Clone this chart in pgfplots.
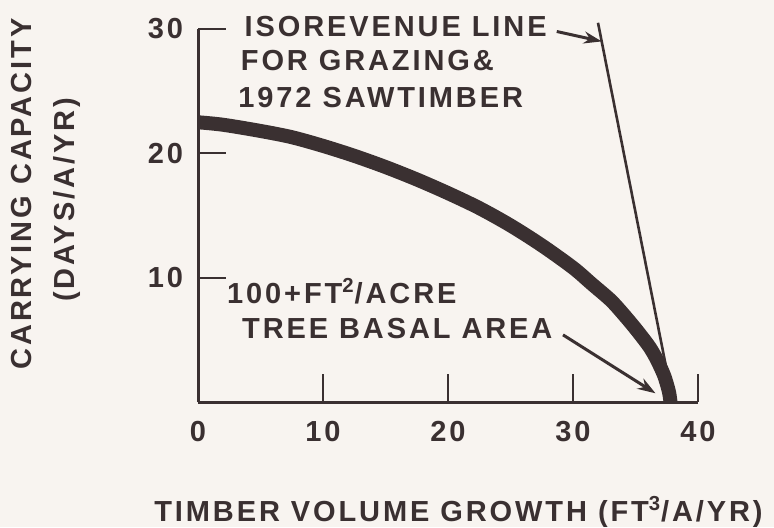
\documentclass[border=0pt]{standalone}
\usepackage{pgfplots}
\pgfplotsset{compat=1.18}
\usepackage{fontspec}
\setmainfont{Liberation Sans}[LetterSpace=10]
\usetikzlibrary{arrows.meta}
\definecolor{ink}{RGB}{58,48,49}
\definecolor{bg}{RGB}{248,244,240}
\newcommand{\lf}{\bfseries\fontsize{14.5}{16}\selectfont}
\begin{document}
\begin{tikzpicture}
\fill[bg] (0,0) rectangle (387pt,263.5pt);
\begin{axis}[
 at={(99pt,62.5pt)}, anchor=south west,
 scale only axis, width=250pt, height=186.5pt,
 xmin=0, xmax=40, ymin=0, ymax=30,
 axis x line=bottom, axis y line=left,
 axis line style={-, line width=1.5pt, draw=ink},
 xtick={0,10,20,30,40}, ytick={10,20,30},
 tick align=inside, major tick length=14pt,
 tick style={line width=1pt, draw=ink},
 ticklabel style={font=\lf, text=ink},
 /pgf/number format/assume math mode=true,
 xticklabel style={yshift=-6pt},
 yticklabel style={xshift=-4pt},
 clip=false,
]
\addplot[ink, line width=7pt, smooth, line cap=butt] coordinates {
 (0,22.5) (2,22.3) (5,21.8) (7.5,21.3) (10,20.6) (12.5,19.8) (15,18.9) (17.5,17.9)
 (20,16.8) (22.5,15.6) (25,14.2) (27.5,12.6) (30,10.8) (31.5,9.5) (33,8.2) (34,7.1)
 (35,5.9) (36,4.6) (36.5,3.8) (37,2.8) (37.3,2.1) (37.55,1.3) (37.7,0.7) (37.8,0)};
\addplot[ink, line width=1.3pt] coordinates {(32.0,30.5) (38.0,0)};
\addplot[ink, line width=1.5pt, -{Stealth[length=9pt,width=6pt]}] coordinates {(28.7,29.8) (32.3,29.0)};
\addplot[ink, line width=1.5pt, -{Stealth[length=9pt,width=6pt]}] coordinates {(29.2,5.4) (36.6,0.7)};
\node[anchor=west, inner sep=0, font=\lf, text=ink] at (axis cs:3.7,30.2) {ISOREVENUE LINE};
\node[anchor=west, inner sep=0, font=\lf, text=ink] at (axis cs:3.4,27.5) {FOR GRAZING\&};
\node[anchor=west, inner sep=0, font=\lf, text=ink] at (axis cs:3.2,24.5) {1972 SAWTIMBER};
\node[anchor=west, inner sep=0, font=\lf, text=ink] at (axis cs:2.3,8.9) {100+FT\textsuperscript{2}/ACRE};
\node[anchor=west, inner sep=0, font=\lf, text=ink] at (axis cs:3.5,5.95) {TREE BASAL AREA};
\end{axis}
\node[rotate=90, font=\lf, text=ink, inner sep=0] at (11pt,166.5pt) {CARRYING CAPACITY};
\node[rotate=90, font=\lf, text=ink, inner sep=0] at (33.5pt,163.5pt) {(DAYS/A/YR)};
\node[font=\lf, text=ink, inner sep=0] at (229.25pt,7.5pt) {TIMBER VOLUME GROWTH (FT\textsuperscript{3}/A/YR)};
\pgfresetboundingbox
\useasboundingbox (0,0) rectangle (387pt,263.5pt);
\end{tikzpicture}
\end{document}
